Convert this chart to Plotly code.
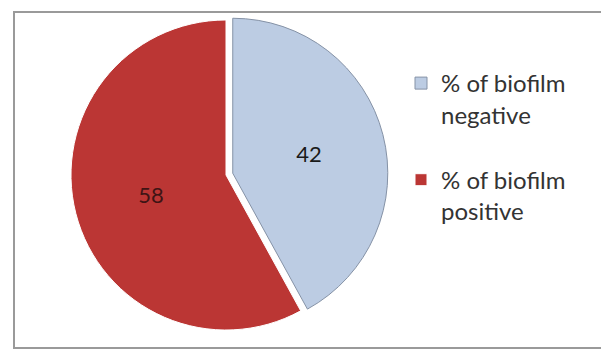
import plotly.graph_objects as go

labels = ["% of biofilm<br>negative<br> ", "% of biofilm<br>positive<br> "]
values = [42, 58]
colors = ["#BCCCE3", "#BB3634"]
edge_colors = ["#8592a6", "#ffffff"]
text_colors = ["#1a1a1a", "#3f1414"]
pulls = [0.045, 0.0]

W, H = 601, 350

fig = go.Figure(
    go.Pie(
        labels=labels,
        values=values,
        sort=False,
        direction="clockwise",
        rotation=0,
        pull=pulls,
        marker=dict(colors=colors, line=dict(color=edge_colors, width=1)),
        textinfo="value",
        textposition="inside",
        insidetextorientation="horizontal",
        textfont=dict(family="Lato", size=22, color=text_colors),
        domain=dict(x=[0.1065, 0.6456], y=[0.037, 0.963]),
        hoverinfo="label+value",
    )
)

fig.add_shape(
    type="rect", xref="paper", yref="paper",
    x0=14 / W, x1=1.02, y0=1 - 348 / H, y1=1 - 12 / H,
    line=dict(color="#9a9a9a", width=2), fillcolor="rgba(0,0,0,0)", layer="below",
)

fig.update_layout(
    width=W, height=H,
    margin=dict(l=0, r=0, t=0, b=0),
    paper_bgcolor="#ffffff",
    plot_bgcolor="#ffffff",
    showlegend=True,
    legend=dict(
        x=401 / W, y=1 - 61 / H, xanchor="left", yanchor="top",
        font=dict(family="Lato", size=24, color="#333333"),
        valign="top",
        bgcolor="rgba(0,0,0,0)",
    ),
)

fig.write_html(
    "out.html",
    config={"displayModeBar": False},
    post_script="document.body.style.margin='0px';",
)
